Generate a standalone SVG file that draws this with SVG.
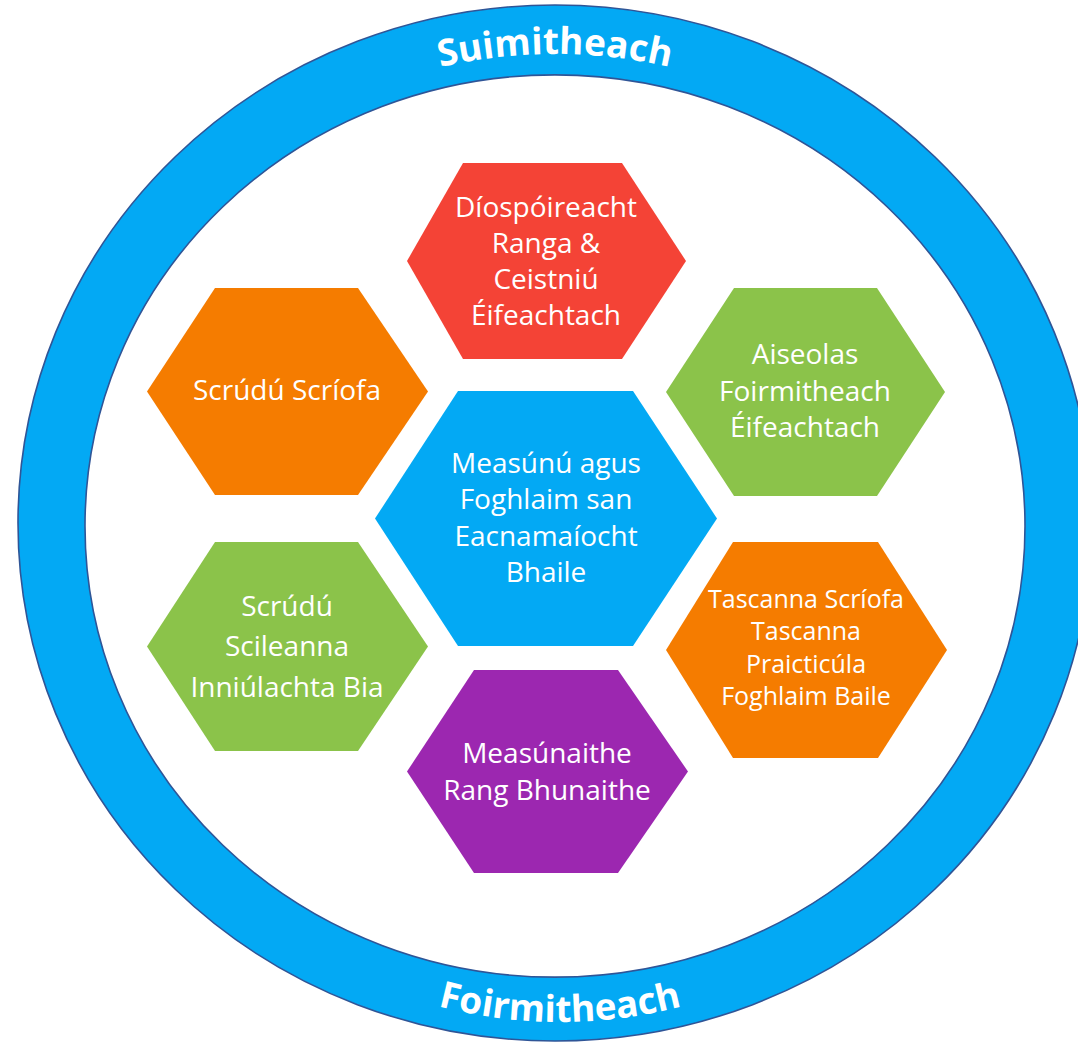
<svg xmlns="http://www.w3.org/2000/svg" width="1078" height="1044" viewBox="0 0 1078 1044">
<style>
.ring{fill:#03A9F4;stroke:#2F5597;stroke-width:1.6;fill-rule:evenodd}
.ringtxt{font-family:"Open Sans","Liberation Sans",sans-serif;font-weight:bold;font-size:37px;fill:#FFFFFF}
.lbl{font-family:"Open Sans","Liberation Sans",sans-serif;font-size:28px;fill:#FFFFFF;text-anchor:middle}
.sm{font-size:25px}
</style>
<defs>
<path id="topArc" d="M 67,523 A 488,469 0 0 1 1043,523"/>
<path id="botArc" d="M 70,523 A 490,499 0 0 0 1050,523"/>
</defs>
<rect width="1078" height="1044" fill="#FFFFFF"/>
<g id="ring">
<path class="ring" d="M 18,523 A 537,518 0 1 0 1092,523 A 537,518 0 1 0 18,523 Z M 85,526 A 470,451 0 1 1 1025,526 A 470,451 0 1 1 85,526 Z"/>
<text class="ringtxt"><textPath href="#topArc" startOffset="50%" text-anchor="middle">Suimitheach</textPath></text>
<text class="ringtxt"><textPath href="#botArc" startOffset="50%" text-anchor="middle">Foirmitheach</textPath></text>
</g>
<g id="connectors"></g>
<g id="hex-center">
<polygon fill="#03A9F4" points="375,518.5 458,391 633,391 717,518.5 633,646 458,646"/>
<text class="lbl"><tspan x="546" y="473">Measúnú agus</tspan><tspan x="546" y="509">Foghlaim san</tspan><tspan x="546" y="546">Eacnamaíocht</tspan><tspan x="546" y="582">Bhaile</tspan></text>
</g>
<g id="hex-red">
<polygon fill="#F44336" points="407,261 463,163 622,163 686,261 622,359 463,359"/>
<text class="lbl"><tspan x="546" y="217">Díospóireacht</tspan><tspan x="546" y="253">Ranga &amp;</tspan><tspan x="546" y="289">Ceistniú</tspan><tspan x="546" y="325">Éifeachtach</tspan></text>
</g>
<g id="hex-orange1">
<polygon fill="#F57C00" points="147,391.5 215,288 358,288 428,391.5 358,495 215,495"/>
<text class="lbl"><tspan x="287" y="400">Scrúdú Scríofa</tspan></text>
</g>
<g id="hex-green1">
<polygon fill="#8BC34A" points="666,392 734,288 877,288 945,392 877,496 734,496"/>
<text class="lbl"><tspan x="805" y="364">Aiseolas</tspan><tspan x="805" y="401">Foirmitheach</tspan><tspan x="805" y="437">Éifeachtach</tspan></text>
</g>
<g id="hex-green2">
<polygon fill="#8BC34A" points="147,646.5 215,542 358,542 428,646.5 358,751 215,751"/>
<text class="lbl"><tspan x="287" y="616">Scrúdú</tspan><tspan x="287" y="656">Scileanna</tspan><tspan x="287" y="697">Inniúlachta Bia</tspan></text>
</g>
<g id="hex-purple">
<polygon fill="#9C27B0" points="407,771.5 474,670 618,670 688,771.5 618,873 474,873"/>
<text class="lbl"><tspan x="547" y="763">Measúnaithe</tspan><tspan x="547" y="800">Rang Bhunaithe</tspan></text>
</g>
<g id="hex-orange2">
<polygon fill="#F57C00" points="666,650 733,542 878,542 947,650 878,758 733,758"/>
<text class="lbl sm"><tspan x="806" y="608">Tascanna Scríofa</tspan><tspan x="806" y="640">Tascanna</tspan><tspan x="806" y="673">Praicticúla</tspan><tspan x="806" y="705">Foghlaim Baile</tspan></text>
</g>
</svg>
